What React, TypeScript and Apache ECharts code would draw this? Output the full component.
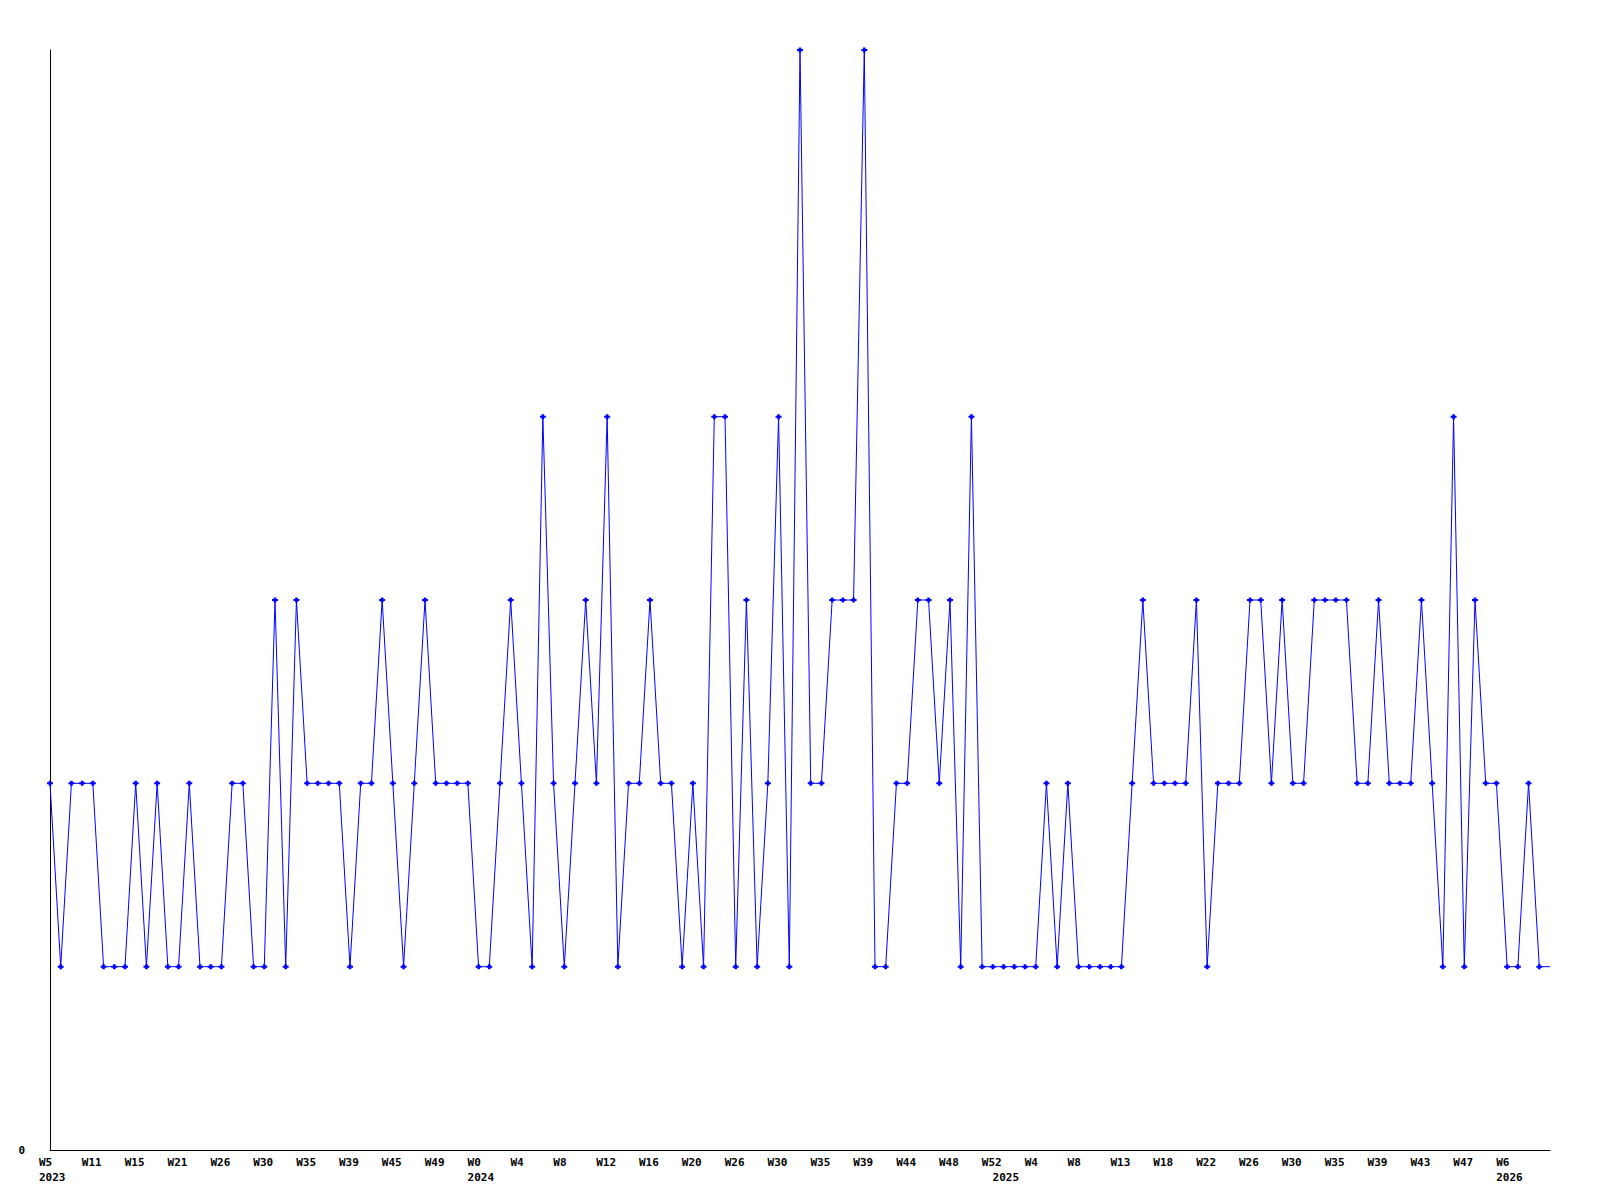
import React, { useEffect, useRef } from "react";
import * as echarts from "echarts";

// Values per period (141 periods, the last one drawn without a marker)
const values: number[] = [
  2, 1, 2, 2, 2, 1, 1, 1, 2, 1,
  2, 1, 1, 2, 1, 1, 1, 2, 2, 1,
  1, 3, 1, 3, 2, 2, 2, 2, 1, 2,
  2, 3, 2, 1, 2, 3, 2, 2, 2, 2,
  1, 1, 2, 3, 2, 1, 4, 2, 1, 2,
  3, 2, 4, 1, 2, 2, 3, 2, 2, 1,
  2, 1, 4, 4, 1, 3, 1, 2, 4, 1,
  6, 2, 2, 3, 3, 3, 6, 1, 1, 2,
  2, 3, 3, 2, 3, 1, 4, 1, 1, 1,
  1, 1, 1, 2, 1, 2, 1, 1, 1, 1,
  1, 2, 3, 2, 2, 2, 2, 3, 1, 2,
  2, 2, 3, 3, 2, 3, 2, 2, 3, 3,
  3, 3, 2, 2, 3, 2, 2, 2, 3, 2,
  1, 4, 1, 3, 2, 2, 1, 1, 2, 1,
  1,
];

// Tick labels, one every 4 periods
const weekLabels: string[] = [
  "W5", "W11", "W15", "W21", "W26", "W30", "W35", "W39", "W45", "W49",
  "W0", "W4", "W8", "W12", "W16", "W20", "W26", "W30", "W35", "W39",
  "W44", "W48", "W52", "W4", "W8", "W13", "W18", "W22", "W26", "W30",
  "W35", "W39", "W43", "W47", "W6",
];
const labelStep = 4;

// Year labels and the period index where each year starts
const years: string[] = ["2023", "2024", "2025", "2026"];
const yearStartIndex: number[] = [0, 40, 89, 136];

const yMin = 0;
const yMax = 6;

const categories: string[] = values.map((_, i) => String(i));

const FONT = "'DejaVu Sans Mono', 'Liberation Mono', monospace";

export default function App() {
  const ref = useRef<HTMLDivElement>(null);

  useEffect(() => {
    if (!ref.current) return;
    const chart = echarts.init(ref.current, undefined, { renderer: "svg" });

    const seriesData = values.map((v, i) =>
      i === values.length - 1 ? { value: v, symbol: "none" } : v
    );

    const weekInterval = (idx: number) =>
      idx % labelStep === 0 && idx / labelStep < weekLabels.length;

    chart.setOption({
      animation: false,
      backgroundColor: "#ffffff",
      grid: [
        { left: 50, right: 50, top: 50, bottom: 50, containLabel: false },
        { left: 39, right: 61, top: 50, bottom: 50, containLabel: false },
      ],
      xAxis: [
        {
          type: "category",
          gridIndex: 0,
          data: categories,
          boundaryGap: false,
          axisLine: { show: true, lineStyle: { color: "#000000", width: 1 } },
          axisTick: { show: false },
          axisLabel: { show: false },
          splitLine: { show: false },
        },
        {
          type: "category",
          gridIndex: 1,
          data: categories,
          boundaryGap: false,
          axisLine: { show: false },
          axisTick: { show: false },
          splitLine: { show: false },
          axisLabel: {
            show: true,
            interval: (idx: number) => weekInterval(idx),
            formatter: (_v: string, idx: number) =>
              weekInterval(idx) ? weekLabels[idx / labelStep] : "",
            align: "left",
            margin: 7,
            color: "#000000",
            fontFamily: FONT,
            fontWeight: "bold",
            fontSize: 11,
          },
        },
        {
          type: "category",
          gridIndex: 1,
          data: categories,
          boundaryGap: false,
          position: "bottom",
          offset: 15,
          axisLine: { show: false },
          axisTick: { show: false },
          splitLine: { show: false },
          axisLabel: {
            show: true,
            interval: (idx: number) => yearStartIndex.indexOf(idx) >= 0,
            formatter: (_v: string, idx: number) => {
              const k = yearStartIndex.indexOf(idx);
              return k >= 0 ? years[k] : "";
            },
            align: "left",
            margin: 7,
            color: "#000000",
            fontFamily: FONT,
            fontWeight: "bold",
            fontSize: 11,
          },
        },
      ],
      yAxis: [
        {
          type: "value",
          gridIndex: 0,
          min: yMin,
          max: yMax,
          interval: 6,
          axisLine: { show: true, lineStyle: { color: "#000000", width: 1 } },
          axisTick: { show: false },
          splitLine: { show: false },
          axisLabel: {
            show: true,
            margin: 25,
            formatter: (v: number) => (v === 0 ? "0" : ""),
            color: "#000000",
            fontFamily: FONT,
            fontWeight: "bold",
            fontSize: 11,
          },
        },
        {
          type: "value",
          gridIndex: 1,
          min: yMin,
          max: yMax,
          show: false,
        },
      ],
      series: [
        {
          type: "line",
          xAxisIndex: 0,
          yAxisIndex: 0,
          data: seriesData,
          showAllSymbol: true,
          symbol: "path://M2,0H5V1.5H7V3.5H5V5H2V3.5H0V1.5H2Z",
          symbolSize: [6, 5],
          symbolKeepAspect: false,
          itemStyle: { color: "#0000ff" },
          lineStyle: { color: "#0000ff", width: 1 },
          emphasis: { disabled: true },
        },
      ],
    });

    return () => chart.dispose();
  }, []);

  return (
    <div
      ref={ref}
      style={{ position: "fixed", left: 0, top: 0, width: 1600, height: 1200, background: "#fff" }}
    />
  );
}
